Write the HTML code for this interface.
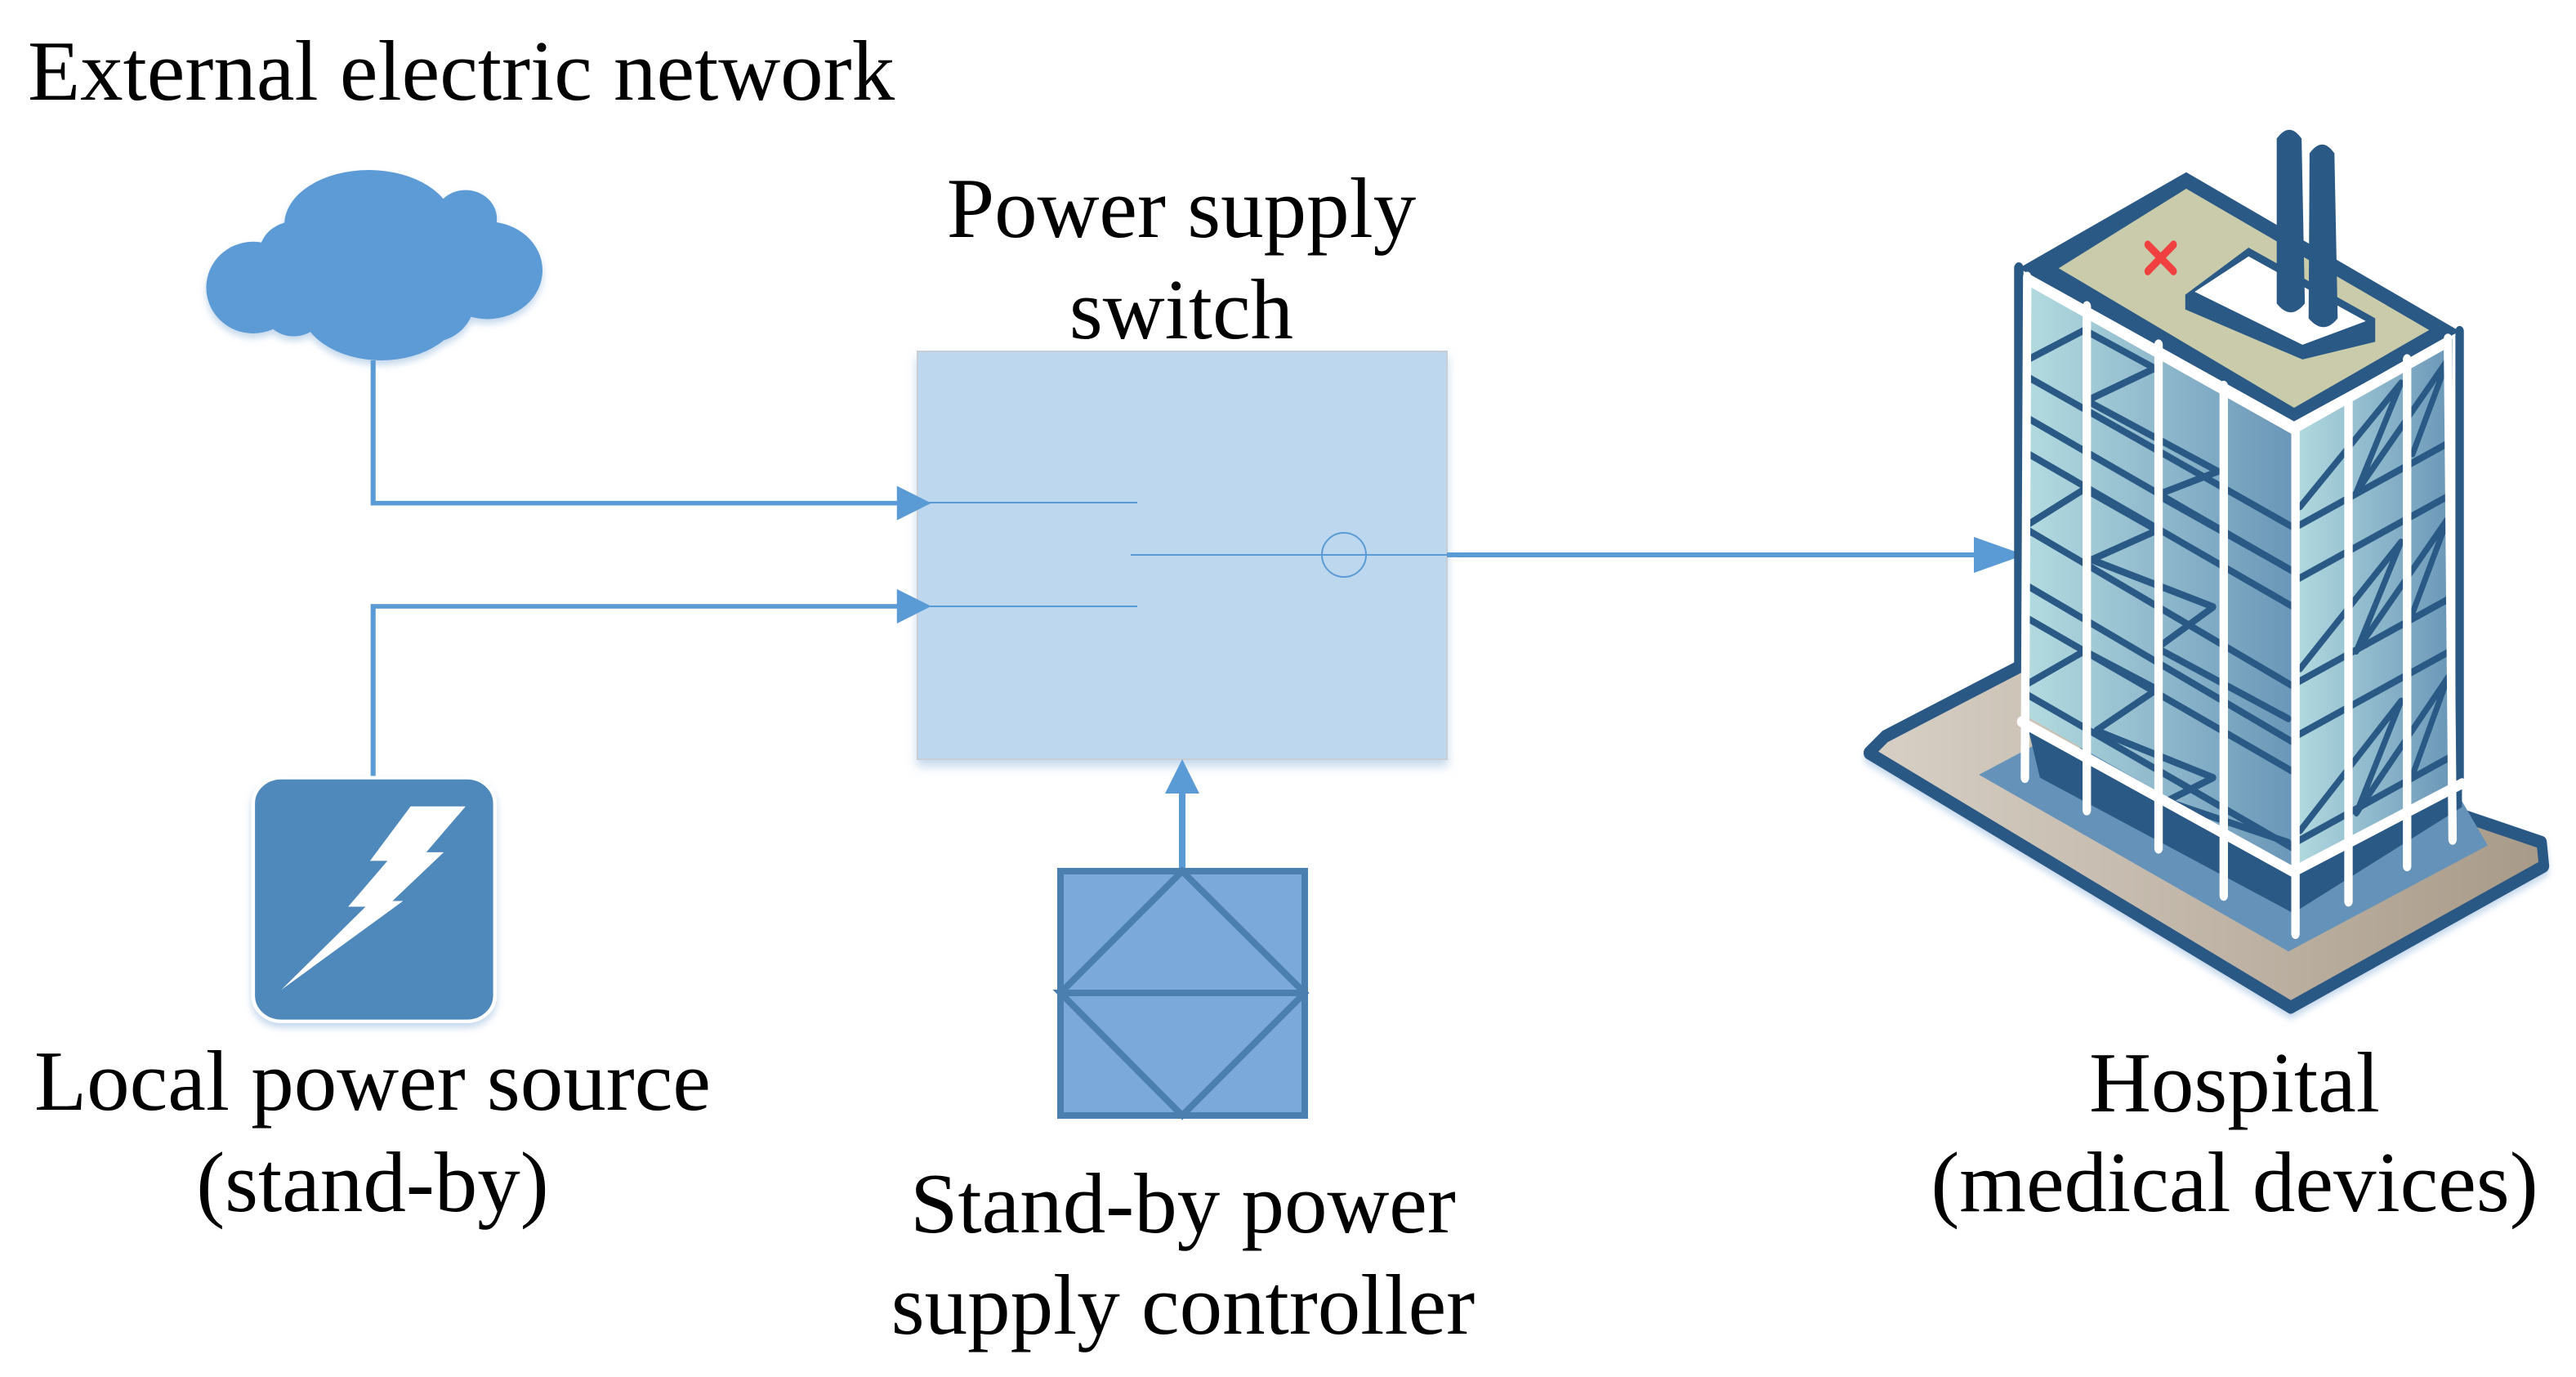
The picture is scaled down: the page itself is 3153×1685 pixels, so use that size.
<!DOCTYPE html>
<html><head><meta charset="utf-8"><style>
html,body{margin:0;padding:0;background:#fff;}
svg{display:block;}
text{font-family:"Liberation Serif",serif;fill:#000;}
</style></head><body>
<svg width="3153" height="1685" viewBox="0 0 3153 1685" xmlns="http://www.w3.org/2000/svg">
<defs>
<linearGradient id="glassL" x1="0" x2="1" y1="0" y2="0"><stop offset="0" stop-color="#B3DBE0"/><stop offset="1" stop-color="#6A96B8"/></linearGradient>
<linearGradient id="glassR" x1="0" x2="1" y1="0" y2="0"><stop offset="0" stop-color="#B3DBE0"/><stop offset="1" stop-color="#6A96B8"/></linearGradient>
<linearGradient id="baseG" x1="0" x2="1" y1="0" y2="0"><stop offset="0" stop-color="#D8D0C6"/><stop offset="1" stop-color="#A89A88"/></linearGradient>
<filter id="sh" x="-10%" y="-10%" width="120%" height="125%"><feDropShadow dx="0" dy="8" stdDeviation="6" flood-color="#9DBEE0" flood-opacity="0.6"/></filter>
</defs>

<!-- Texts -->
<text x="34" y="122" font-size="105">External electric network</text>
<text x="1446" y="290" font-size="105" text-anchor="middle">Power supply</text>
<text x="1446" y="414" font-size="105" text-anchor="middle">switch</text>
<text x="456" y="1358" font-size="105" text-anchor="middle">Local power source</text>
<text x="456" y="1482" font-size="105" text-anchor="middle">(stand-by)</text>
<text x="1448" y="1508" font-size="105" text-anchor="middle">Stand-by power</text>
<text x="1448" y="1632" font-size="105" text-anchor="middle">supply controller</text>
<text x="2735" y="1360" font-size="105" text-anchor="middle">Hospital</text>
<text x="2735" y="1482" font-size="105" text-anchor="middle">(medical devices)</text>

<!-- Switch box -->
<rect x="1123" y="430" width="648" height="499" fill="#BDD7EE" stroke="#C8CED6" stroke-width="2" filter="url(#sh)"/>
<line x1="1123" y1="615" x2="1392" y2="615" stroke="#5B9BD5" stroke-width="2"/>
<line x1="1123" y1="742" x2="1392" y2="742" stroke="#5B9BD5" stroke-width="2"/>
<line x1="1384" y1="679" x2="1771" y2="679" stroke="#5B9BD5" stroke-width="2"/>
<circle cx="1645" cy="679" r="27" fill="none" stroke="#5B9BD5" stroke-width="2"/>

<!-- Output connector -->
<line x1="1771" y1="679" x2="2420" y2="679" stroke="#5B9BD5" stroke-width="6"/>
<polygon points="2416,657 2478,679 2416,701" fill="#5B9BD5"/>

<!-- Left group (zoom3 coords) -->
<g transform="translate(0,180) scale(0.765,0.7015)">
  <g fill="#5B9BD5" filter="url(#sh)">
    <ellipse cx="590" cy="135" rx="135" ry="95"/>
    <circle cx="745" cy="125" r="50"/>
    <ellipse cx="780" cy="215" rx="88" ry="85"/>
    <ellipse cx="405" cy="245" rx="75" ry="80"/>
    <circle cx="470" cy="185" r="55"/>
    <ellipse cx="610" cy="275" rx="130" ry="97"/>
    <circle cx="470" cy="280" r="50"/>
    <ellipse cx="690" cy="265" rx="70" ry="75"/>
  </g>
  <polyline points="597,372 597,621 1440,621" fill="none" stroke="#5B9BD5" stroke-width="8"/>
  <polyline points="597,1100 597,801 1440,801" fill="none" stroke="#5B9BD5" stroke-width="8"/>
  <polygon points="1435,591 1490,621 1435,651" fill="#5B9BD5"/>
  <polygon points="1435,771 1490,801 1435,831" fill="#5B9BD5"/>
  <rect x="405" y="1100" width="387" height="425" rx="45" ry="45" fill="#4F89BB" stroke="#fff" stroke-width="6" filter="url(#sh)"/>
  <polygon points="745,1150 657,1150 592,1245 620,1245 557,1325 585,1325 450,1470 645,1315 628,1315 710,1230 682,1230" fill="#fff"/>
</g>

<!-- Controller -->
<line x1="1447" y1="1064" x2="1447" y2="965" stroke="#5B9BD5" stroke-width="8"/>
<polygon points="1426,971 1447,929 1468,971" fill="#5B9BD5"/>
<rect x="1298" y="1066" width="299" height="299" fill="#7BA9D9" stroke="#4A7FB0" stroke-width="8"/>
<polyline points="1298,1215 1447,1066 1597,1215 1447,1365 1298,1215 1597,1215" fill="none" stroke="#4A7FB0" stroke-width="8"/>

<!-- Building (zoom1 coords) -->
<g transform="translate(2250,130) scale(0.574,0.7207)" stroke-linejoin="round" stroke-linecap="round">
  <polygon points="65,1098 100,1070 390,950 1500,1250 1505,1290 965,1530" fill="url(#baseG)" stroke="#2A5985" stroke-width="22" filter="url(#sh)"/>
  <polygon points="300,1135 430,1080 1330,1180 1385,1255 960,1435" fill="#6592B8"/>
  <polygon points="400,1040 970,1300 1330,1140 1330,1190 970,1370 430,1140" fill="#2A5985"/>
  <polygon points="400,290 970,545 970,1295 400,1035" fill="url(#glassL)"/>
  <polygon points="970,545 1310,395 1310,1150 970,1295" fill="url(#glassR)"/>
  <g stroke="#2A5985" stroke-width="12" fill="none">
    <line x1="405" y1="460" x2="970" y2="715"/>
    <line x1="405" y1="530" x2="970" y2="790"/>
    <line x1="405" y1="590" x2="970" y2="850"/>
    <line x1="405" y1="720" x2="970" y2="985"/>
    <line x1="405" y1="815" x2="970" y2="1080"/>
    <line x1="405" y1="870" x2="970" y2="1130"/>
    <line x1="405" y1="1000" x2="970" y2="1260"/>
    <polyline points="405,430 525,380 675,445 530,500 810,620 680,660 960,785"/>
    <polyline points="405,710 525,650 680,720 540,770 800,850 680,920 960,1040"/>
    <polyline points="405,980 525,925 680,990 550,1060 800,1140 700,1180 960,1250"/>
    <line x1="975" y1="715" x2="1305" y2="570"/>
    <line x1="975" y1="805" x2="1305" y2="660"/>
    <line x1="975" y1="980" x2="1305" y2="835"/>
    <line x1="975" y1="1070" x2="1305" y2="925"/>
    <line x1="975" y1="1250" x2="1305" y2="1105"/>
    <polyline points="985,680 1200,470 1105,655 1300,430 1225,590"/>
    <polyline points="985,955 1200,740 1105,925 1300,700 1225,860"/>
    <polyline points="985,1230 1200,1010 1105,1200 1300,970 1225,1135"/>
  </g>
  <polygon points="385,275 742,112 1325,382 972,535" fill="#2A5985"/>
  <polygon points="470,275 742,140 1260,380 972,512" fill="#C9CBAA"/>
  <polygon points="740,320 875,240 1145,360 1145,400 990,430 740,345" fill="#2A5985"/>
  <polygon points="760,315 875,255 1125,365 990,405" fill="#fff"/>
  <path d="M660 235 L715 280 M715 235 L660 280" stroke="#F04040" stroke-width="14"/>
  <path d="M935 55 Q962 25 988 55 L995 335 Q965 365 935 335 Z" fill="#2A5985"/>
  <path d="M1005 80 Q1032 50 1058 80 L1065 360 Q1035 390 1003 360 Z" fill="#2A5985"/>
  <polyline points="385,275 385,950" fill="none" stroke="#2A5985" stroke-width="20"/>
  <polyline points="1325,382 1325,1150" fill="none" stroke="#2A5985" stroke-width="18"/>
  <g stroke="#fff" stroke-width="18" fill="none">
    <polyline points="405,295 970,548 1300,400"/>
    <line x1="403" y1="290" x2="398" y2="1140"/>
    <line x1="530" y1="340" x2="530" y2="1195"/>
    <line x1="683" y1="405" x2="683" y2="1260"/>
    <line x1="822" y1="475" x2="822" y2="1340"/>
    <line x1="975" y1="545" x2="975" y2="1405"/>
    <line x1="1088" y1="495" x2="1088" y2="1350"/>
    <line x1="1213" y1="430" x2="1213" y2="1290"/>
    <line x1="1300" y1="395" x2="1310" y2="1245"/>
    <polyline points="390,1045 970,1300 1330,1150"/>
  </g>
</g>
</svg>
</body></html>
